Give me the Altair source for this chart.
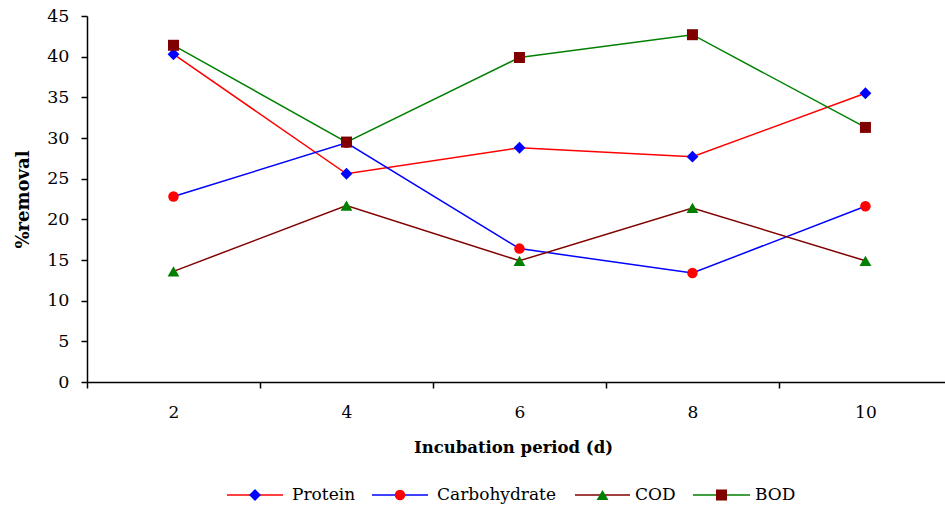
import altair as alt
import pandas as pd

# ---- data ----
days = [2, 4, 6, 8, 10]
series_names = ["Protein", "Carbohydrate", "COD", "BOD"]
protein = [40.3, 25.6, 28.8, 27.7, 35.5]
carbohydrate = [22.8, 29.4, 16.4, 13.4, 21.6]
cod = [13.6, 21.7, 14.9, 21.4, 14.9]
bod = [41.4, 29.5, 39.9, 42.7, 31.3]
y_ticks = [0, 5, 10, 15, 20, 25, 30, 35, 40, 45]

# ---- styling ----
line_colors = ["#ff0000", "#0000ff", "#800000", "#008000"]
marker_colors = ["#0000ff", "#ff0000", "#008000", "#800000"]
marker_shapes = ["diamond", "circle", "triangle-up", "square"]
marker_sizes = [140, 110, 140, 121]

values = [protein, carbohydrate, cod, bod]
rows = []
for name, vals in zip(series_names, values):
    for d, v in zip(days, vals):
        rows.append({"day": d, "series": name, "value": v})
df = pd.DataFrame(rows)

boundaries = [d - 1 for d in days]
x_axis_values = sorted(days + boundaries)

FONT = "DejaVu Serif"
W, H = 858, 366

x_enc = alt.X(
    "day:Q",
    scale=alt.Scale(domain=[1, 10.92], nice=False, zero=False),
    axis=alt.Axis(
        values=x_axis_values,
        labelExpr="datum.value % 2 == 0 ? datum.label : ''",
        tickOpacity={"condition": {"test": "datum.value % 2 == 1", "value": 1}, "value": 0},
        tickSize=6, tickColor="black", tickWidth=1.5,
        domainColor="black", domainWidth=1.5,
        labelFont=FONT, labelFontSize=17, labelColor="black", labelPadding=16,
        labelFlush=False, labelOverlap=False, grid=False,
        title="Incubation period (d)", titleFont=FONT, titleFontSize=16.5,
        titleFontWeight="bold", titleColor="black",
        titleX=426, titleY=65, titleAlign="center", titleBaseline="middle",
    ),
)
y_enc = alt.Y(
    "value:Q",
    scale=alt.Scale(domain=[0, 45], nice=False, zero=True),
    axis=alt.Axis(
        values=y_ticks, tickSize=6, tickColor="black", tickWidth=1.5,
        domainColor="black", domainWidth=1.5,
        labelFont=FONT, labelFontSize=17.5, labelColor="black", labelPadding=12,
        grid=False,
        title="%removal", titleFont=FONT, titleFontSize=18, titleFontWeight="bold",
        titleColor="black", titleAngle=270, titleX=-64, titleY=H / 2,
        titleAlign="center", titleBaseline="middle",
    ),
)

layers = []
for i, name in enumerate(series_names):
    base = alt.Chart(df).transform_filter(alt.datum.series == name)
    layers.append(base.mark_line(color=line_colors[i], strokeWidth=1.5).encode(x=x_enc, y=y_enc))
    layers.append(
        base.mark_point(filled=True, opacity=1, shape=marker_shapes[i], size=marker_sizes[i],
                        color=marker_colors[i]).encode(x=x_enc, y=y_enc)
    )

# ---- manual legend (line colour differs from marker colour) ----
leg_y = 479
leg_line_x = [(140, 196), (285, 341), (488, 543), (606, 663)]
leg_text_x = [205, 350, 548, 668]
for i, name in enumerate(series_names):
    ld = pd.DataFrame({"series": [name]})
    x0, x1 = leg_line_x[i]
    layers.append(alt.Chart(ld).mark_rule(color=line_colors[i], strokeWidth=1.5).encode(
        x=alt.value(x0), x2=alt.value(x1), y=alt.value(leg_y)))
    layers.append(alt.Chart(ld).mark_point(filled=True, opacity=1, shape=marker_shapes[i],
                                           size=marker_sizes[i], color=marker_colors[i]).encode(
        x=alt.value((x0 + x1) / 2), y=alt.value(leg_y)))
    layers.append(alt.Chart(ld).mark_text(align="left", baseline="middle", font=FONT,
                                          fontSize=17, color="black").encode(
        x=alt.value(leg_text_x[i]), y=alt.value(leg_y), text="series:N"))

chart = alt.layer(*layers).properties(
    width=W, height=H,
    autosize=alt.AutoSizeParams(type="none"),
    padding={"left": 87, "top": 16, "right": 0, "bottom": 132},
    background="white",
).configure_view(stroke=None)

chart.save("out.html", embed_options={"renderer": "svg", "actions": False})
